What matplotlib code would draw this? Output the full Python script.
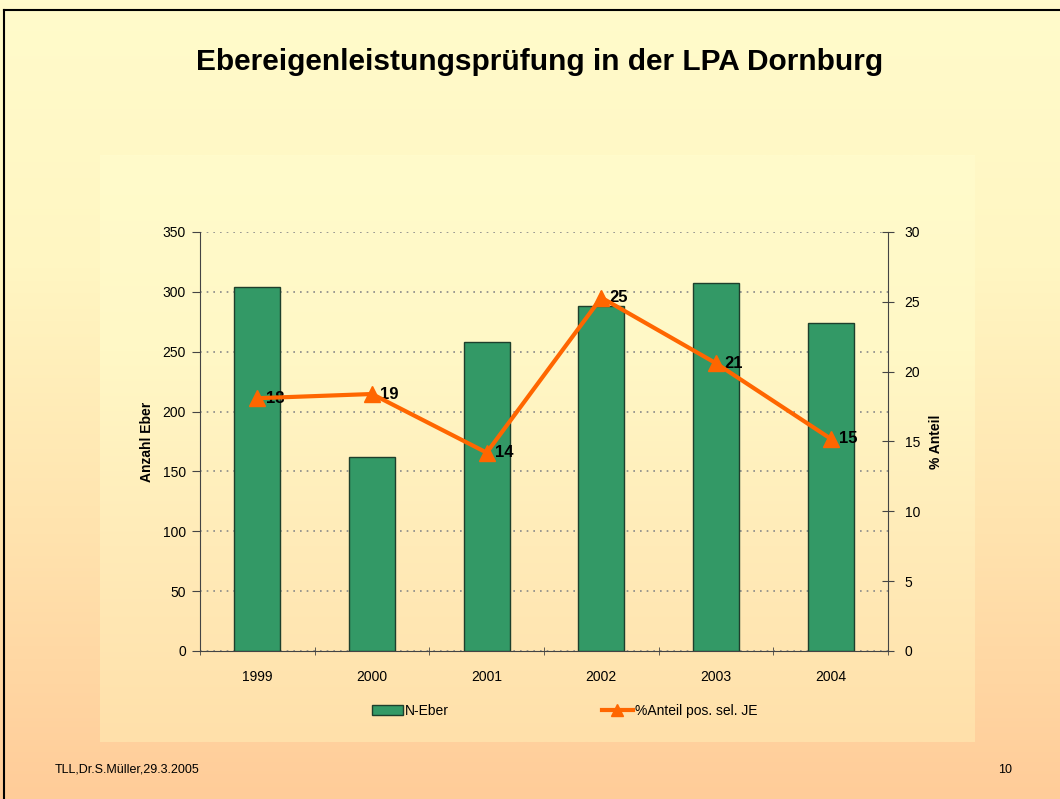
import numpy as np
import matplotlib
matplotlib.use("Agg")
import matplotlib.pyplot as plt
from matplotlib.colors import LinearSegmentedColormap
from matplotlib.lines import Line2D
from matplotlib.patches import Patch

years = ["1999", "2000", "2001", "2002", "2003", "2004"]
n_eber = [304, 162, 258, 288, 307, 274]
anteil = [18.1, 18.4, 14.2, 25.3, 20.6, 15.2]
anteil_labels = ["18", "19", "14", "25", "21", "15"]

plt.rcParams['font.family'] = ['Liberation Sans', 'DejaVu Sans']

W, H = 1060, 799
fig = plt.figure(figsize=(W / 100, H / 100), dpi=100)

# background gradient
bg = fig.add_axes([0, 0, 1, 1], zorder=-10)
cmap = LinearSegmentedColormap.from_list("bg", ["#FFFBCB", "#FFF6C2", "#FFE3AE", "#FFCC99"])
grad = np.linspace(0, 1, 256).reshape(-1, 1)
bg.imshow(grad, aspect="auto", cmap=cmap, extent=[0, W, H, 0])
cmap2 = LinearSegmentedColormap.from_list("in", ["#FFFBCB", "#FFF8C6", "#FFEBB8", "#FFE0AA"])
bg.imshow(grad, aspect="auto", cmap=cmap2, extent=[100, 975, 742, 155])
bg.set_xlim(0, W)
bg.set_ylim(H, 0)
bg.plot([4, 4], [10, H], color="black", lw=1.5)
bg.plot([4, W], [10, 10], color="black", lw=1.5)
bg.axis("off")

fig.text(540 / W, 1 - 62 / H, "Ebereigenleistungsprüfung in der LPA Dornburg",
         ha="center", va="center", fontsize=21.5, fontweight="bold")
fig.text(55 / W, 1 - 770 / H, "TLL,Dr.S.Müller,29.3.2005", ha="left", va="center", fontsize=9)
fig.text(1005 / W, 1 - 770 / H, "10", ha="center", va="center", fontsize=9)

ax = fig.add_axes([200 / W, 1 - 651 / H, (888 - 200) / W, (651 - 232) / H])
ax.patch.set_alpha(0)
x = np.arange(len(years))
ax.bar(x, n_eber, width=0.4, color="#339966", edgecolor="#1E3F2C", linewidth=1, zorder=3)
ax.set_xlim(-0.5, len(years) - 0.5)
ax.set_ylim(0, 350)
ax.set_yticks(np.arange(0, 351, 50))
ax.yaxis.grid(True, linestyle=(0, (1, 3)), color="#888888", lw=1.2)
ax.set_axisbelow(True)
ax.set_xticks(x)
ax.set_xticklabels(years, fontsize=10)
ax.set_xticks(np.arange(-0.5, len(years), 1), minor=True)
ax.tick_params(axis="x", which="major", length=0, pad=14)
ax.tick_params(axis="x", which="minor", length=6, direction="inout", color="#444444")
ax.tick_params(axis="y", length=6, direction="out", color="#444444", labelsize=10, pad=4)
for s in ["top", "right"]:
    ax.spines[s].set_visible(False)
for s in ["left", "bottom"]:
    ax.spines[s].set_color("#444444")
ax.set_ylabel("Anzahl Eber", fontsize=10, fontweight="bold", labelpad=6)

ax2 = ax.twinx()
ax2.set_ylim(0, 30)
ax2.set_yticks(np.arange(0, 31, 5))
ax2.tick_params(axis="y", length=8, direction="inout", color="#444444", labelsize=10, pad=8)
for s in ["top", "left", "bottom"]:
    ax2.spines[s].set_visible(False)
ax2.spines["right"].set_color("#444444")
ax2.plot(x, anteil, color="#FF6600", lw=3, marker="^", markersize=11, zorder=5)
for xi, yi, lab in zip(x, anteil, anteil_labels):
    ax2.annotate(lab, (xi, yi), xytext=(6, 0), textcoords="offset points",
                 ha="left", va="center", fontsize=12, fontweight="bold")
ax2.set_ylabel("% Anteil", fontsize=10, fontweight="bold", rotation=90, labelpad=6)

handles = [Patch(facecolor="#339966", edgecolor="#1E3F2C", label="N-Eber"),
           Line2D([0], [0], color="#FF6600", lw=3, marker="^", markersize=9,
                  label="%Anteil pos. sel. JE")]
fig.legend(handles=handles, loc="center", bbox_to_anchor=(565 / W, 1 - 711 / H), ncol=2,
           frameon=False, fontsize=10, columnspacing=11, handlelength=2.2, handletextpad=0.2)

fig.savefig("out.png", dpi=100)
